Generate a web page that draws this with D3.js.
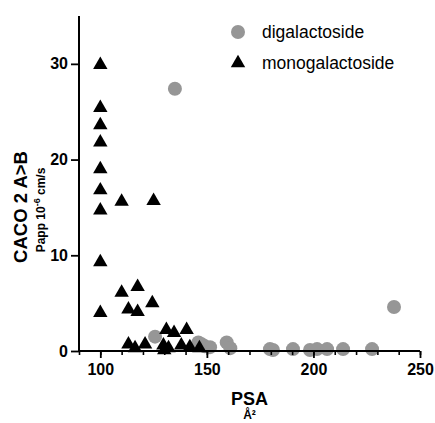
<!DOCTYPE html>
<html>
<head>
<meta charset="utf-8">
<script src="https://cdn.jsdelivr.net/npm/d3@7"></script>
<style>
body{margin:0;background:#fff;}
svg{display:block;font-family:"Liberation Sans",Arial,Helvetica,sans-serif;}
</style>
</head>
<body>
<svg id="chart" width="435" height="423"></svg>
<script>
const seriesNames = ["digalactoside", "monogalactoside"];
const diPSA = [135, 125.7, 146, 147.5, 149, 151.5, 159.3, 161, 179.6, 181, 190.4, 198.4, 201.7, 206.4, 213.9, 227.5, 237.8];
const diPapp = [27.4, 1.5, 0.9, 0.7, 0.5, 0.4, 0.9, 0.3, 0.2, 0.1, 0.2, 0.1, 0.2, 0.2, 0.2, 0.2, 4.6];
const monoPSA = [100, 100, 100, 100, 100, 100, 100, 100, 100, 110, 110, 125, 124.4, 113.2, 117.5, 117.5,
  113.2, 116.3, 121, 129.6, 130, 131, 134.6, 140.5, 138, 142, 146.5, 132];
const monoPapp = [29.9, 25.4, 23.6, 21.8, 19.0, 16.8, 14.7, 9.3, 4.0, 15.6, 6.1, 15.7, 5.0, 4.35, 6.7, 4.1,
  0.7, 0.3, 0.7, 0.6, 0.1, 2.2, 1.9, 2.2, 0.6, 0.4, 0.3, 0.3];
const xTicks = [100, 150, 200, 250];
const yTicks = [0, 10, 20, 30];

const svg = d3.select("#chart");
const x = d3.scaleLinear().domain([90, 250]).range([79, 420]);
const y = d3.scaleLinear().domain([0, 35]).range([351, 16]);

const di = diPSA.map((v, i) => ({x: v, y: diPapp[i]}));
const mono = monoPSA.map((v, i) => ({x: v, y: monoPapp[i]}));

svg.append("g").selectAll("circle").data(di).join("circle")
  .attr("cx", d => x(d.x)).attr("cy", d => y(d.y)).attr("r", 7)
  .attr("fill", "#969696");

const tri = d3.symbol().type(d3.symbolTriangle).size(90);
svg.append("g").selectAll("path").data(mono).join("path")
  .attr("d", tri)
  .attr("transform", d => `translate(${x(d.x)},${y(d.y)})`)
  .attr("fill", "#000");

// axes
const xAxisG = svg.append("g").attr("transform", `translate(0,${y(0)})`);
xAxisG.call(d3.axisBottom(x).tickValues(d3.range(90, 251, 10)).tickSize(4).tickFormat(""))
  .call(g => g.select(".domain").remove())
  .call(g => g.selectAll("line").attr("stroke-width", 1.6));
xAxisG.append("g").call(d3.axisBottom(x).tickValues(xTicks).tickSize(7).tickPadding(6))
  .call(g => g.select(".domain").attr("stroke-width", 2).attr("d", `M${x(90)},0H${x(250)}`))
  .call(g => g.selectAll("line").attr("stroke-width", 1.8))
  .call(g => g.selectAll("text").attr("font-size", 16).attr("font-weight", "bold")
    .attr("fill", "#000").attr("font-family", "Liberation Sans, Arial, sans-serif"));

const yAxisG = svg.append("g").attr("transform", `translate(${x(90)},0)`);
yAxisG.call(d3.axisLeft(y).tickValues(yTicks).tickSize(8).tickPadding(3))
  .call(g => g.select(".domain").attr("stroke-width", 2).attr("d", `M0,${y(0)+1}V${y(35)}`))
  .call(g => g.selectAll("line").attr("stroke-width", 1.8))
  .call(g => g.selectAll("text").attr("font-size", 16).attr("font-weight", "bold")
    .attr("fill", "#000").attr("font-family", "Liberation Sans, Arial, sans-serif"));

// axis titles
svg.append("text").attr("x", 249.5).attr("y", 405).attr("text-anchor", "middle")
  .attr("font-size", 18).attr("font-weight", "bold").text("PSA");
svg.append("text").attr("x", 249.5).attr("y", 419).attr("text-anchor", "middle")
  .attr("font-size", 12).attr("font-weight", "bold").text("Å²");

svg.append("text").attr("transform", `translate(27,207) rotate(-90)`)
  .attr("text-anchor", "middle").attr("font-size", 18.5).attr("font-weight", "bold")
  .text("CACO 2 A>B");
const ys = svg.append("text").attr("transform", `translate(45,210) rotate(-90)`)
  .attr("text-anchor", "middle").attr("font-size", 12).attr("font-weight", "bold");
ys.append("tspan").text("Papp 10");
ys.append("tspan").attr("font-size", 9).attr("dy", -5).text("-6");
ys.append("tspan").attr("dy", 5).text(" cm/s");

// legend
const leg = svg.append("g");
leg.append("circle").attr("cx", 238).attr("cy", 32).attr("r", 7).attr("fill", "#969696");
leg.append("path").attr("d", tri).attr("transform", "translate(238,63)").attr("fill", "#000");
leg.selectAll("text").data(seriesNames).join("text")
  .attr("x", 262).attr("y", (d, i) => 38 + i * 31)
  .attr("font-size", 17.5).attr("fill", "#000").text(d => d);
</script>
</body>
</html>
